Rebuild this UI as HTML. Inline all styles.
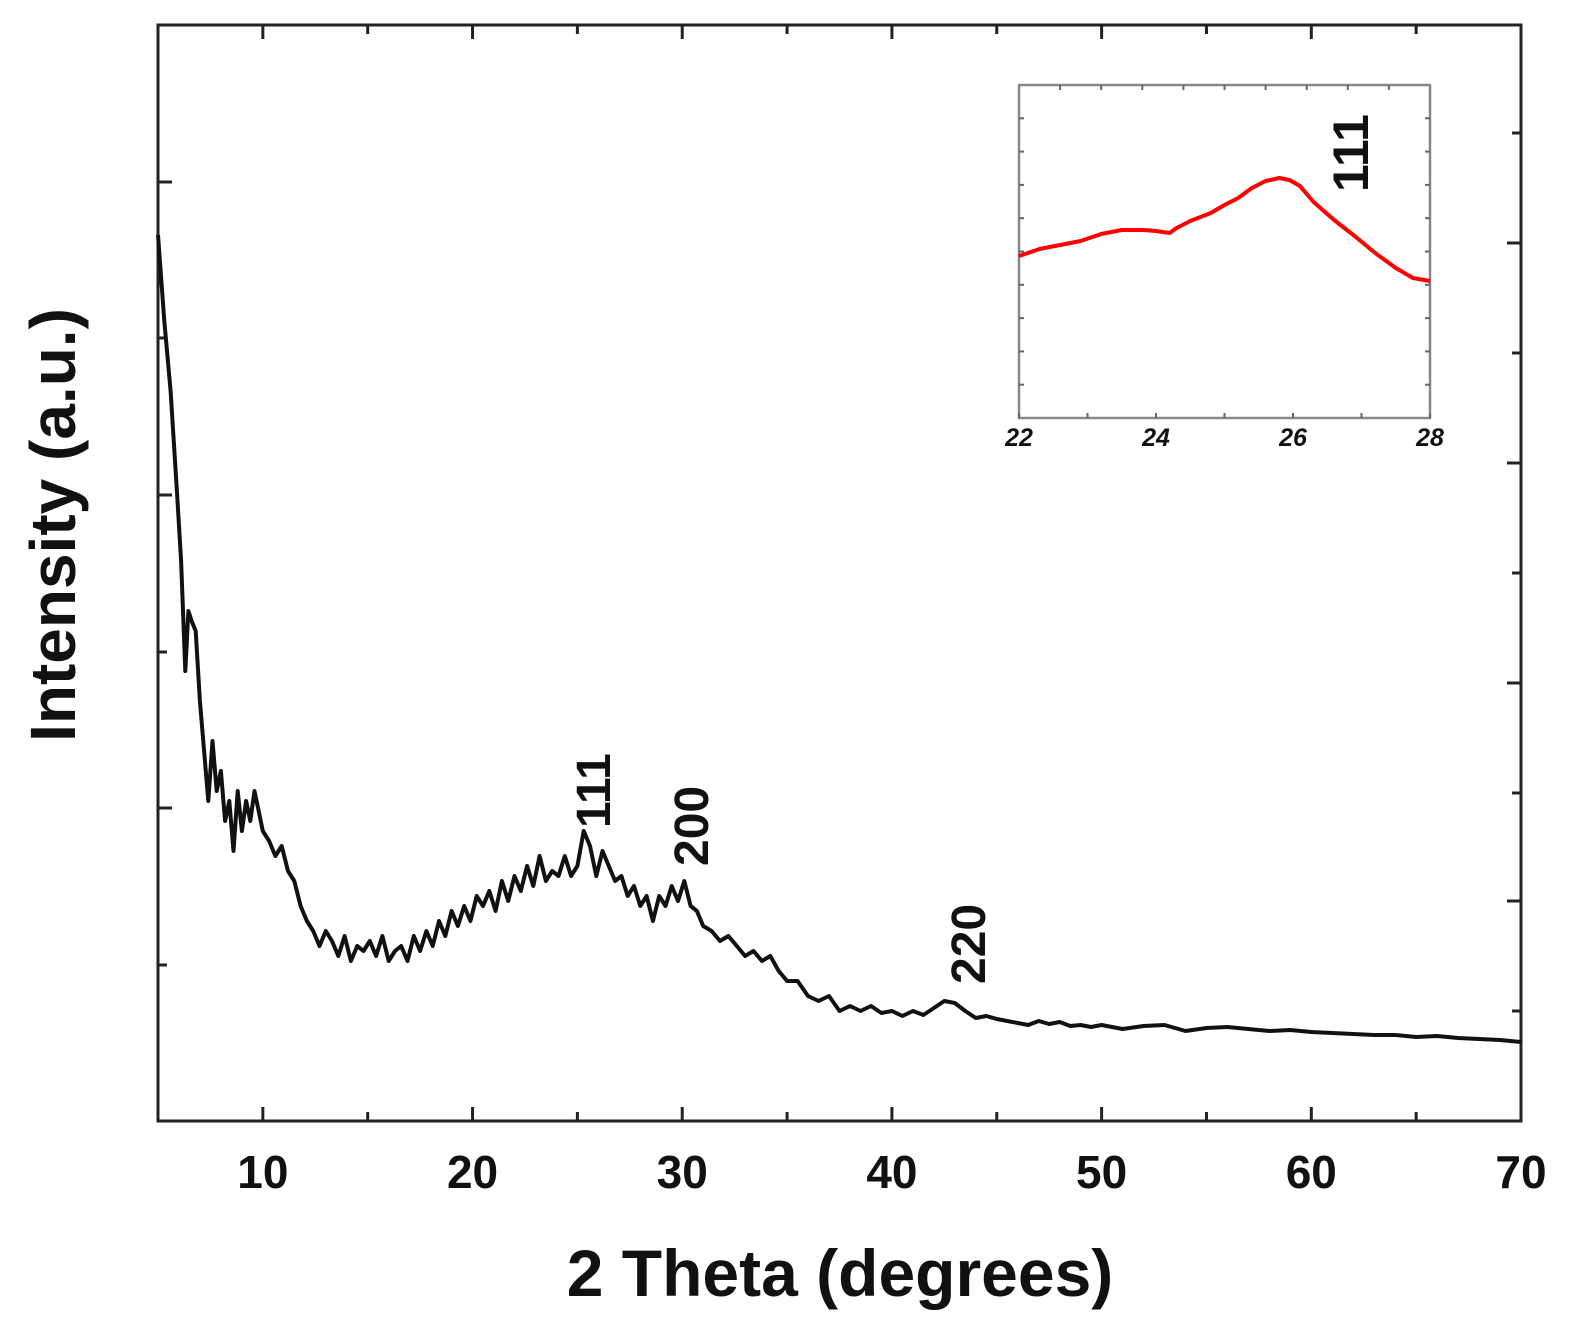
<!DOCTYPE html>
<html><head><meta charset="utf-8">
<style>
html,body{margin:0;padding:0;background:#fff;}
svg{display:block;font-family:"Liberation Sans",Arial,sans-serif;}
</style></head>
<body>
<svg id="chart" width="1576" height="1340" viewBox="0 0 1576 1340" xmlns="http://www.w3.org/2000/svg"></svg>
<script>
// ---- main data (2θ, intensity in arbitrary units) ----
const mainTheta = [5.0,5.3,5.6,5.9,6.1,6.3,6.45,6.6,6.8,7.0,7.2,7.4,7.6,7.8,8.0,8.2,8.4,8.6,8.8,9.0,9.2,9.4,9.6,9.8,10.0,10.3,10.6,10.9,11.2,11.5,11.8,12.1,12.4,12.7,13.0,13.3,13.6,13.9,14.2,14.5,14.8,15.1,15.4,15.7,16.0,16.3,16.6,16.9,17.2,17.5,17.8,18.1,18.4,18.7,19.0,19.3,19.6,19.9,20.2,20.5,20.8,21.1,21.4,21.7,22.0,22.3,22.6,22.9,23.2,23.5,23.8,24.1,24.4,24.7,25.0,25.3,25.6,25.9,26.2,26.5,26.8,27.1,27.4,27.7,28.0,28.3,28.6,28.9,29.2,29.5,29.8,30.1,30.4,30.7,31.0,31.4,31.8,32.2,32.6,33.0,33.4,33.8,34.2,34.6,35.0,35.5,36.0,36.5,37.0,37.5,38.0,38.5,39.0,39.5,40.0,40.5,41.0,41.5,42.0,42.5,43.0,43.5,44.0,44.5,45.0,45.5,46.0,46.5,47.0,47.5,48.0,48.5,49.0,49.5,50.0,51.0,52.0,53.0,54.0,55.0,56.0,57.0,58.0,59.0,60.0,61.0,62.0,63.0,64.0,65.0,66.0,67.0,68.0,69.0,70.0];
const mainInt = [886,800,730,630,560,450,510,500,490,420,370,320,380,330,350,300,320,270,330,290,320,300,330,310,290,280,265,275,250,240,215,200,190,175,190,180,165,185,160,175,170,180,165,185,160,170,175,160,185,170,190,175,200,185,210,195,215,200,225,215,230,210,240,220,245,230,255,235,265,240,250,245,265,245,255,290,275,245,270,255,240,245,225,235,215,225,200,225,215,235,220,240,215,210,195,190,180,185,175,165,170,160,165,150,140,140,125,120,125,110,115,110,115,108,110,105,110,106,113,120,118,110,103,105,102,100,98,96,100,97,99,95,96,94,96,92,95,96,90,93,94,92,90,91,89,88,87,86,86,84,85,83,82,81,79];
const xTicks = [10,20,30,40,50,60,70];
// ---- inset data ----
const insetTheta = [22.0,22.3,22.6,22.9,23.2,23.5,23.8,24.0,24.2,24.3,24.5,24.8,25.0,25.2,25.4,25.6,25.8,25.95,26.1,26.3,26.6,26.9,27.2,27.5,27.75,28.0];
const insetInt = [162,169,173,177,184,188,188,187,185,190,197,205,213,220,230,237,240,238,232,216,198,182,165,150,140,137];
const insetTicks = [22,24,26,28];

const NS="http://www.w3.org/2000/svg";
const svg=document.getElementById('chart');
function mk(tag,attrs,parent){const e=document.createElementNS(NS,tag);for(const k in attrs)e.setAttribute(k,attrs[k]);(parent||svg).appendChild(e);return e;}

const L=158,R=1521,T=25,B=1121;
const xMin=5,xMax=70,yMin=0,yMax=1096;
const sx=v=>L+(v-xMin)/(xMax-xMin)*(R-L);
const sy=v=>B-(v-yMin)/(yMax-yMin)*(B-T);

const frame=mk('rect',{x:L,y:T,width:R-L,height:B-T,fill:'none',stroke:'#222','stroke-width':3});



for(let v=5;v<=70;v+=5){
  const major=(v%10===0);
  const len=major?14:9;
  const t1=mk('line',{x1:sx(v),y1:B,x2:sx(v),y2:B-len,stroke:'#222','stroke-width':3});
  
  
  const t2=mk('line',{x1:sx(v),y1:T,x2:sx(v),y2:T+len,stroke:'#222','stroke-width':3});
  
  
}
xTicks.forEach(v=>{
  const t=mk('text',{x:sx(v),y:1188,'text-anchor':'middle','font-size':46,'font-weight':'bold',fill:'#111'});
  t.textContent=v;
  
  
});
[182,338,495,652,808,965].forEach((y,i)=>{
  const t=mk('line',{x1:L,y1:y,x2:L+(i%2===0?14:9),y2:y,stroke:'#222','stroke-width':3});
  
  
});
[133,243,353,463,573,683,793,901,1011].forEach((y,i)=>{
  const t=mk('line',{x1:R,y1:y,x2:R-(i%2===0?9:14),y2:y,stroke:'#222','stroke-width':3});
  
  
});

let d='';
mainTheta.forEach((v,i)=>{d+=(i?'L':'M')+sx(v).toFixed(1)+','+sy(mainInt[i]).toFixed(1);});
const line=mk('path',{d:d,fill:'none',stroke:'#111','stroke-width':4,'stroke-linejoin':'round'});



function rotLabel(x,y,txt,size,name){
  const t=mk('text',{x:x,y:y,transform:`rotate(-90 ${x} ${y})`,'font-size':size,'font-weight':'bold',fill:'#111'});
  t.textContent=txt;
  
  
}
rotLabel(610,828,'111',48,'peak-label-111');
rotLabel(708,866,'200',48,'peak-label-200');
rotLabel(985,984,'220',48,'peak-label-220');

const xt=mk('text',{x:840,y:1296,'text-anchor':'middle','font-size':66,'font-weight':'bold',fill:'#111'});
xt.textContent='2 Theta (degrees)';


const yt=mk('text',{x:75,y:525,'text-anchor':'middle','font-size':64,'font-weight':'bold',fill:'#111',transform:'rotate(-90 75 525)'});
yt.textContent='Intensity (a.u.)';



// ---- inset ----
const iL=1019,iR=1430,iT=85,iB=418;
const ixMin=22,ixMax=28,iyMin=0,iyMax=333;
const isx=v=>iL+(v-ixMin)/(ixMax-ixMin)*(iR-iL);
const isy=v=>iB-(v-iyMin)/(iyMax-iyMin)*(iB-iT);
const iframe=mk('rect',{x:iL,y:iT,width:iR-iL,height:iB-iT,fill:'#fff',stroke:'#888','stroke-width':2.5});


for(let v=22;v<=28;v+=1){
  const t=mk('line',{x1:isx(v),y1:iB,x2:isx(v),y2:iB-5,stroke:'#666','stroke-width':2});
  
  
}
for(let k=1;k<10;k++){
  const x=iL+k*(iR-iL)/10;
  const t=mk('line',{x1:x,y1:iT,x2:x,y2:iT+5,stroke:'#666','stroke-width':2});
  
  
}
for(let k=1;k<10;k++){
  const y=iT+k*(iB-iT)/10;
  const a=mk('line',{x1:iL,y1:y,x2:iL+5,y2:y,stroke:'#666','stroke-width':2});
  
  
  const b=mk('line',{x1:iR,y1:y,x2:iR-5,y2:y,stroke:'#666','stroke-width':2});
  
  
}
insetTicks.forEach(v=>{
  const t=mk('text',{x:isx(v),y:446,'text-anchor':'middle','font-size':25,'font-weight':'bold','font-style':'italic',fill:'#111'});
  t.textContent=v;
  
  
});
let d2='';
insetTheta.forEach((v,i)=>{d2+=(i?'L':'M')+isx(v).toFixed(1)+','+isy(insetInt[i]).toFixed(1);});
const iline=mk('path',{d:d2,fill:'none',stroke:'#f00','stroke-width':4,'stroke-linejoin':'round'});


rotLabel(1368,192,'111',50,'inset-peak-label-111');
</script>
</body></html>
